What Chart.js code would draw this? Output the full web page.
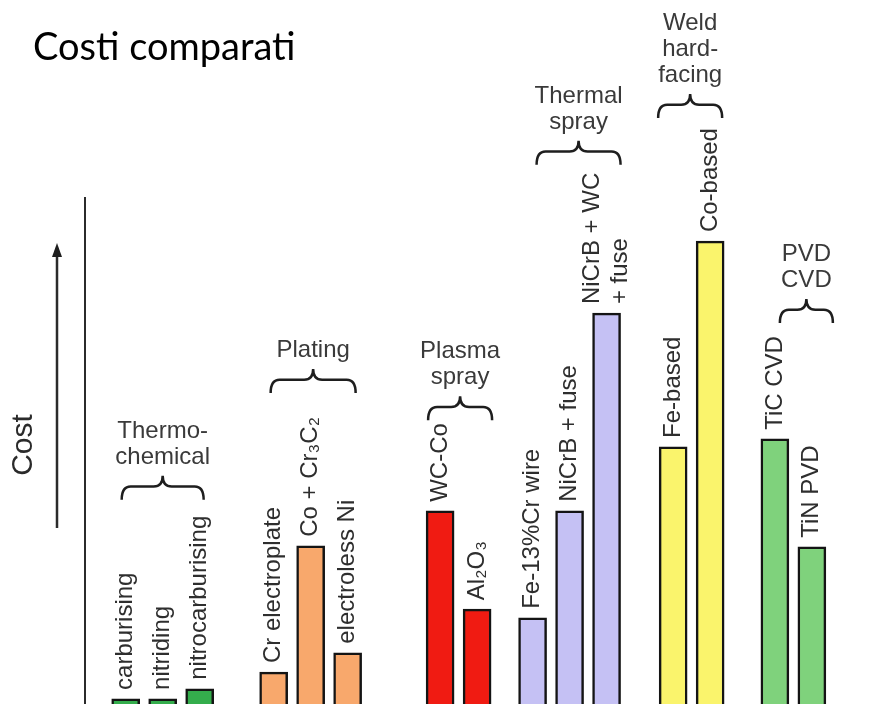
<!DOCTYPE html>
<html>
<head>
<meta charset="utf-8">
<title>Costi comparati</title>
<script src="https://cdn.jsdelivr.net/npm/chart.js@4.4.1/dist/chart.umd.min.js"></script>
<style>
  html, body { margin: 0; padding: 0; background: #fff; overflow: hidden; }
  canvas { display: block; }
</style>
</head>
<body>
<canvas id="chartCosti" width="884" height="704"></canvas>
<script>
// surface treatments, grouped by process family
const groupNames = [['Thermo-', 'chemical'], ['Plating'], ['Plasma', 'spray'], ['Thermal', 'spray'], ['Weld', 'hard-', 'facing'], ['PVD', 'CVD']];
const groupSizes = [3, 3, 2, 3, 2, 2];
const processes = [
    'carburising', 'nitriding', 'nitrocarburising',
    'Cr electroplate', 'Co + Cr₃C₂', 'electroless Ni',
    'WC-Co', 'Al₂O₃',
    'Fe-13%Cr wire', 'NiCrB + fuse', ['NiCrB + WC', '+ fuse'],
    'Fe-based', 'Co-based',
    'TiC CVD', 'TiN PVD'
];
// relative cost index (0-100)
const cost = [1.0, 1.0, 3.0, 6.3, 31.2, 10.1, 38.1, 18.7, 17.0, 38.1, 77.1, 50.7, 91.3, 52.3, 31.0];

// look & layout
const groupColors = ['#34ad4c', '#f8a86c', '#f01b12', '#c5c1f4', '#faf46c', '#7fd27c'];
const groupGap = [2, 2.5, 1.5, 1.8, 1.75];          // slots between neighbouring groups
const braceFit = [[10, -10, 16], [11, -6, 24], [2, 1, 3], [18, 0, 8], [-1, -2, 10], [19, 7, 13]];
const labelFont = '24px "Liberation Sans", Arial, "DejaVu Sans", sans-serif';

// bar slots and colours derived from the groups
const xSlots = [];
const barColors = [];
let slot = 0;
groupSizes.forEach(function(n, g) {
    for (let i = 0; i < n; i++) {
        xSlots.push(slot);
        barColors.push(groupColors[g]);
        slot += 1;
    }
    slot += (groupGap[g] || 1) - 1;
});

function drawBrace(ctx, x1, x2, yB, h) {
    const xc = (x1 + x2) / 2;
    const ym = yB - h * 0.55;
    const r = 9;
    ctx.beginPath();
    ctx.moveTo(x1, yB);
    ctx.quadraticCurveTo(x1, ym, x1 + r, ym);
    ctx.lineTo(xc - r, ym);
    ctx.quadraticCurveTo(xc, ym, xc, yB - h);
    ctx.quadraticCurveTo(xc, ym, xc + r, ym);
    ctx.lineTo(x2 - r, ym);
    ctx.quadraticCurveTo(x2, ym, x2, yB);
    ctx.stroke();
}

const decor = {
    id: 'decor',
    beforeDraw: function(chart) {
        const ctx = chart.ctx;
        ctx.save();
        ctx.fillStyle = '#fff';
        ctx.fillRect(0, 0, chart.width, chart.height);
        ctx.restore();
    },
    afterDatasetsDraw: function(chart) {
        const ctx = chart.ctx;
        const area = chart.chartArea;
        const bars = chart.getDatasetMeta(0).data;
        ctx.save();

        // title
        ctx.fillStyle = '#000';
        ctx.font = '38px Lato, "Open Sans", sans-serif';
        ctx.textAlign = 'left';
        ctx.textBaseline = 'alphabetic';
        ctx.fillText('Costi comparati', 33, 60);

        // axis line and cost arrow
        ctx.strokeStyle = '#2b2b2b';
        ctx.lineWidth = 2;
        ctx.beginPath();
        ctx.moveTo(area.left, area.top);
        ctx.lineTo(area.left, area.bottom);
        ctx.stroke();

        const ax = area.left - 28;
        const tip = area.top + 46;
        ctx.lineWidth = 2.5;
        ctx.beginPath();
        ctx.moveTo(ax, area.bottom - 176);
        ctx.lineTo(ax, tip + 10);
        ctx.stroke();
        ctx.fillStyle = '#1e1e1e';
        ctx.beginPath();
        ctx.moveTo(ax, tip);
        ctx.lineTo(ax - 5, tip + 14);
        ctx.lineTo(ax + 5, tip + 14);
        ctx.closePath();
        ctx.fill();

        ctx.save();
        ctx.translate(24, 445);
        ctx.rotate(-Math.PI / 2);
        ctx.fillStyle = '#2a2a2a';
        ctx.font = '30px "Liberation Sans", Arial, sans-serif';
        ctx.textAlign = 'center';
        ctx.textBaseline = 'middle';
        ctx.fillText('Cost', 0, 0);
        ctx.restore();

        // rotated process names above the bars
        ctx.font = labelFont;
        ctx.fillStyle = '#2e2e2e';
        const labelTop = [];
        bars.forEach(function(bar, i) {
            const lines = Array.isArray(processes[i]) ? processes[i] : [processes[i]];
            const y0 = bar.y - 9;
            let longest = 0;
            ctx.save();
            ctx.translate(bar.x, y0);
            ctx.rotate(-Math.PI / 2);
            ctx.textAlign = 'left';
            ctx.textBaseline = 'middle';
            lines.forEach(function(line, j) {
                ctx.fillText(line, 0, (j - (lines.length - 1) / 2) * 28);
                longest = Math.max(longest, ctx.measureText(line).width);
            });
            ctx.restore();
            labelTop.push(y0 - longest);
        });

        // group braces and names
        let start = 0;
        groupSizes.forEach(function(n, g) {
            const first = bars[start];
            const last = bars[start + n - 1];
            const fit = braceFit[g];
            const x1 = first.x - first.width / 2 + fit[0];
            const x2 = last.x + last.width / 2 + fit[1];
            const yB = Math.min.apply(null, labelTop.slice(start, start + n)) - fit[2];
            const h = 24;
            ctx.strokeStyle = '#1e1e1e';
            ctx.lineWidth = 2.5;
            drawBrace(ctx, x1, x2, yB, h);

            const names = groupNames[g];
            ctx.fillStyle = '#3a3a3a';
            ctx.textAlign = 'center';
            ctx.textBaseline = 'alphabetic';
            names.forEach(function(line, j) {
                ctx.fillText(line, (x1 + x2) / 2, yB - h - 12 - (names.length - 1 - j) * 26);
            });
            start += n;
        });
        ctx.restore();
    }
};

document.addEventListener('DOMContentLoaded', function() {
    const ctx = document.getElementById('chartCosti').getContext('2d');
    new Chart(ctx, {
        type: 'bar',
        data: {
            datasets: [{
                data: cost.map(function(v, i) { return { x: xSlots[i], y: v }; }),
                backgroundColor: barColors,
                borderColor: '#141414',
                borderWidth: 2.5,
                barThickness: 28
            }]
        },
        options: {
            responsive: false,
            animation: false,
            layout: { padding: { top: 197, left: 85, right: 0, bottom: 0 } },
            scales: {
                x: { type: 'linear', min: -1.1, max: 20.5, offset: false, display: false },
                y: { min: 0, max: 100, display: false }
            },
            plugins: {
                legend: { display: false },
                tooltip: { enabled: false }
            }
        },
        plugins: [decor]
    });
});
</script>
</body>
</html>
